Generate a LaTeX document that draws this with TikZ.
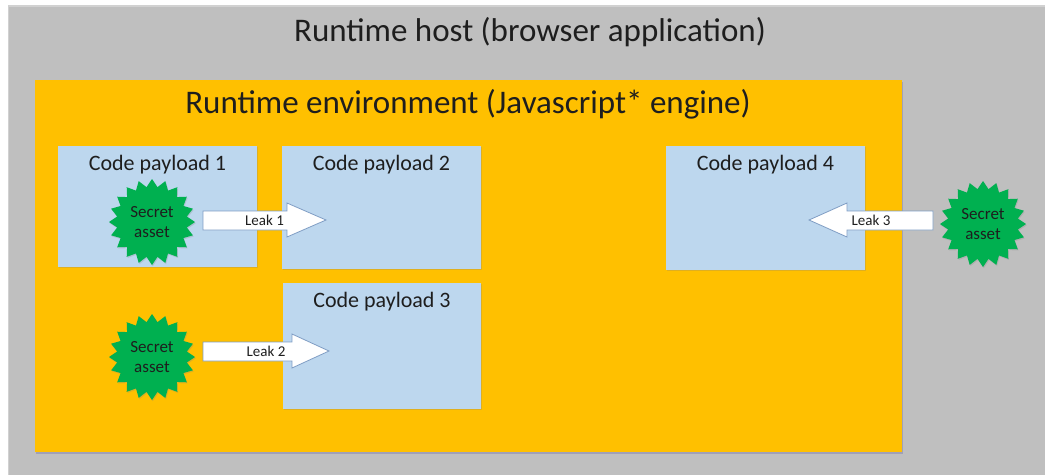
\documentclass[tikz,border=0pt]{standalone}
\usepackage{fontspec}
\setmainfont{Carlito}
\usetikzlibrary{shapes.geometric,shadows}
\definecolor{hostgray}{HTML}{BFBFBF}
\definecolor{envorange}{HTML}{FFC000}
\definecolor{payblue}{HTML}{BDD7EE}
\definecolor{secgreen}{HTML}{00B050}
\definecolor{arrowedge}{HTML}{7F9DC4}
\definecolor{txt}{HTML}{1E1E1E}
\tikzset{
  payload/.style={fill=payblue, draw=none, drop shadow={shadow xshift=0.8pt, shadow yshift=-1.2pt, opacity=0.25}},
  paytitle/.style={font=\fontsize{22}{24}\selectfont, text=txt, anchor=center},
  secret/.style={star, star points=20, star point ratio=1.22, minimum size=86pt, inner sep=0pt,
    fill=secgreen, draw=none, align=center, font=\fontsize{17}{20.5}\selectfont, text=txt,
    drop shadow={shadow xshift=0.8pt, shadow yshift=-1.2pt, opacity=0.25}},
  leakarrow/.style={fill=white, draw=arrowedge, line width=0.8pt, line join=miter},
  leaktext/.style={font=\fontsize{15}{17}\selectfont, text=txt, inner sep=0pt}
}
\begin{document}
\begin{tikzpicture}[x=1pt,y=-1pt]
\useasboundingbox (0,0) rectangle (1045,475);
\fill[white] (0,0) rectangle (1045,475);
% host
\fill[black!18] (8,5) rectangle (1045,475);
\fill[hostgray] (9,6.5) rectangle (1045,475);
\node[font=\fontsize{33}{36}\selectfont, text=txt] (hosttitle) at (530,32) {Runtime host (browser application)};
% environment
\path[fill=envorange, drop shadow={shadow xshift=0.6pt, shadow yshift=-1.5pt, opacity=0.3, fill=blue!30!gray}]
  (35,80) rectangle (902,452);
\node[font=\fontsize{33}{36}\selectfont, text=txt] (envtitle) at (468,104) {Runtime environment (Javascript* engine)};
% payloads
\path[payload] (58,146) rectangle (257,267);
\path[payload] (282,146) rectangle (481,269);
\path[payload] (283,283) rectangle (481,409);
\path[payload] (666,146) rectangle (865,270);
\node[paytitle] (p1) at (157.5,165) {Code payload 1};
\node[paytitle] (p2) at (381.5,165) {Code payload 2};
\node[paytitle] (p3) at (382,302) {Code payload 3};
\node[paytitle] (p4) at (765.5,165) {Code payload 4};
% secrets
\node[secret] (s1) at (152,222) {Secret\\asset};
\node[secret] (s2) at (152,357) {Secret\\asset};
\node[secret] (s3) at (983,224) {Secret\\asset};
% leak arrows
\draw[leakarrow] (203,211) -- (287,211) -- (287,203) -- (326,220) -- (287,237) -- (287,230) -- (203,230) -- cycle;
\node[leaktext] (l1) at (264.5,220.5) {Leak 1};
\draw[leakarrow] (203,342) -- (292,342) -- (292,334) -- (329,351) -- (292,368) -- (292,361) -- (203,361) -- cycle;
\node[leaktext] (l2) at (266,351.5) {Leak 2};
\draw[leakarrow] (933,211) -- (847,211) -- (847,203) -- (809,220) -- (847,237) -- (847,230) -- (933,230) -- cycle;
\node[leaktext] (l3) at (871,220.5) {Leak 3};
\end{tikzpicture}
\end{document}
